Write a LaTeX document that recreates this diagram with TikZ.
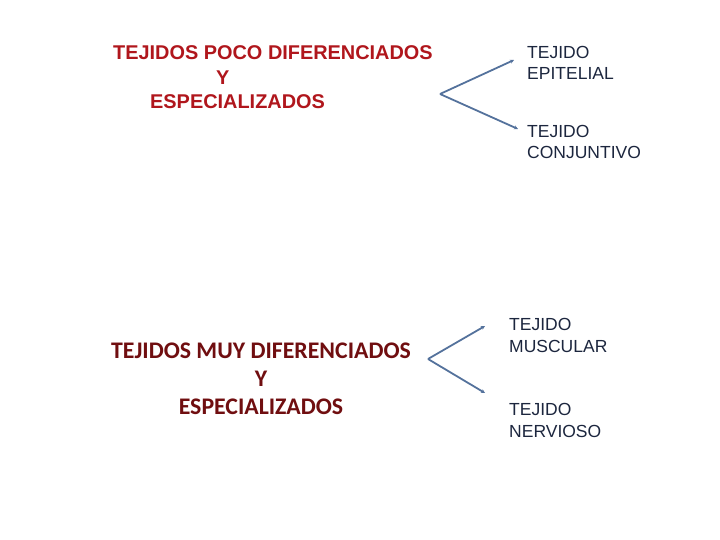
\documentclass[tikz,border=0pt]{standalone}
\usepackage{fontspec}
\setmainfont{Liberation Sans}
\newfontfamily\carlito{Carlito}
\usetikzlibrary{arrows.meta}
\definecolor{topred}{RGB}{176,22,28}
\definecolor{botred}{RGB}{112,14,16}
\definecolor{navy}{RGB}{28,38,62}
\definecolor{linkblue}{RGB}{84,114,156}
\tikzset{
  toptxt/.style={text=topred,font=\fontsize{19.9}{24}\selectfont\bfseries,inner sep=0pt,anchor=base west},
  bottxt/.style={text=botred,font=\carlito\fontsize{23.8}{28}\selectfont\bfseries,inner sep=0pt,anchor=base},
  leaf/.style={text=navy,font=\fontsize{17.5}{21.5}\selectfont,inner sep=0pt,anchor=base west,align=left},
  link/.style={draw=linkblue,line width=1.8pt,-{Stealth[length=4pt,width=4pt]}}
}
\begin{document}
\begin{tikzpicture}[x=1pt,y=1pt]
\useasboundingbox (0,0) rectangle (720,-540);
% top-left heading
\node[toptxt] (t1) at (113,-60) {TEJIDOS POCO DIFERENCIADOS};
\node[toptxt] (t2) at (216,-85) {Y};
\node[toptxt] (t3) at (150,-109) {ESPECIALIZADOS};
% bottom-left heading
\node[bottxt] (b1) at (261,-358) {TEJIDOS MUY DIFERENCIADOS};
\node[bottxt] (b2) at (261,-386) {Y};
\node[bottxt] (b3) at (261,-414) {ESPECIALIZADOS};
% leaves
\node[leaf] (epi) at (527,-80) {TEJIDO\\EPITELIAL};
\node[leaf] (con) at (527,-159) {TEJIDO\\CONJUNTIVO};
\node[leaf] (mus) at (509,-352) {TEJIDO\\MUSCULAR};
\node[leaf] (ner) at (509,-437) {TEJIDO\\NERVIOSO};
% connectors
\coordinate (v1) at (440,-94);
\coordinate (e1) at (514,-60);
\coordinate (e2) at (518,-129);
\coordinate (v2) at (428,-359);
\coordinate (e3) at (485,-326);
\coordinate (e4) at (485,-393);
\draw[link] (v1) -- (e1);
\draw[link] (v1) -- (e2);
\draw[link] (v2) -- (e3);
\draw[link] (v2) -- (e4);
\end{tikzpicture}
\end{document}
